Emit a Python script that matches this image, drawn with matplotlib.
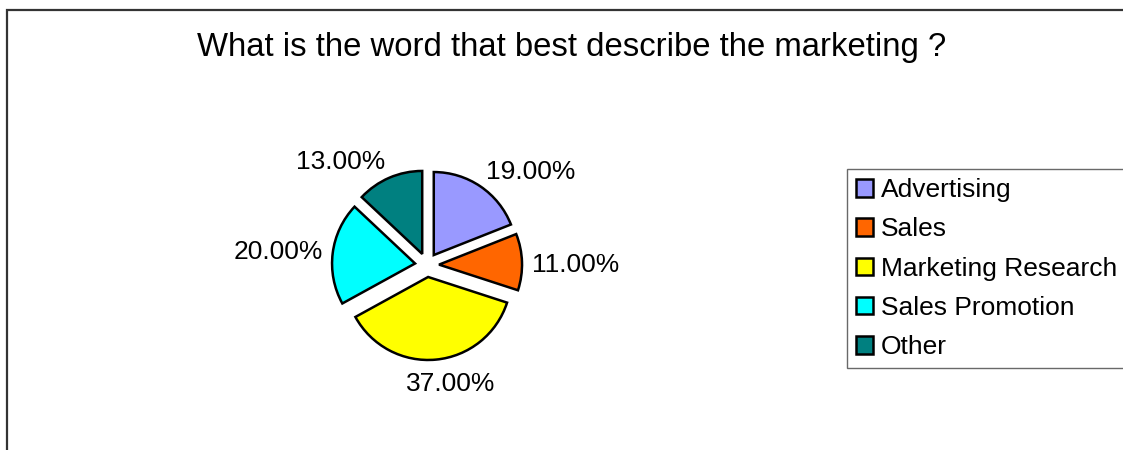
import numpy as np
import matplotlib
matplotlib.use("Agg")
import matplotlib.pyplot as plt
from matplotlib.patches import Rectangle

categories = ["Advertising", "Sales", "Marketing Research", "Sales Promotion", "Other"]
values = [19.0, 11.0, 37.0, 20.0, 13.0]
colors = ["#9999FF", "#FF6600", "#FFFF00", "#00FFFF", "#008080"]
title = "What is the word that best describe the marketing ?"

plt.rcParams['font.family'] = ['Liberation Sans', 'DejaVu Sans']

W, H = 1123, 450
fig = plt.figure(figsize=(W / 100, H / 100), dpi=100)

# outer frame (left & top visible)
fig.add_artist(Rectangle((7 / W, -0.2), 1.3, 0.2 + 1 - 10 / H, transform=fig.transFigure,
                         fill=False, edgecolor="#333333", linewidth=1.6))

cx, cy, rpx = 427, 265, 83
L = 1.5
side = 2 * L * rpx
ax = fig.add_axes([(cx - side / 2) / W, (H - cy - side / 2) / H, side / W, side / H])
explode = [0.145] * len(values)
wedges, _ = ax.pie(values, colors=colors, explode=explode, startangle=90, counterclock=False,
                   wedgeprops=dict(edgecolor="black", linewidth=1.8))
ax.set_xlim(-L, L)
ax.set_ylim(-L, L)
ax.set_aspect('equal')
ax.axis('off')

renderer = fig.canvas.get_renderer()
for w, v, e in zip(wedges, values, explode):
    ang = np.deg2rad((w.theta1 + w.theta2) / 2)
    c, s = np.cos(ang), np.sin(ang)
    d = 1.12
    x = (e + d) * c
    y = (e + d) * s
    t = ax.annotate(f"{v:.2f}%", (x, y), xytext=(0, 0), textcoords='offset pixels',
                    ha='center', va='center', fontsize=19, annotation_clip=False)
    bb = t.get_window_extent(renderer)
    fx = np.clip(c / 0.3, -1, 1)
    fy = np.clip(s / 0.3, -1, 1)
    t.xyann = (fx * bb.width / 2, fy * bb.height / 2 * 0.85 - 4)

fig.text(571.5 / W, 1 - 56 / H, title, ha='center', va='baseline', fontsize=23.7)

leg = fig.legend(wedges, categories, loc='upper left', bbox_to_anchor=(847 / W, 1 - 169 / H),
                 bbox_transform=fig.transFigure, borderaxespad=0, fontsize=19,
                 frameon=True, fancybox=False, edgecolor="#444444",
                 handlelength=0.65, handleheight=0.65, handletextpad=0.3,
                 borderpad=0.34, labelspacing=0.58)
leg.get_frame().set_linewidth(1.0)

fig.savefig("out.png", dpi=100)
